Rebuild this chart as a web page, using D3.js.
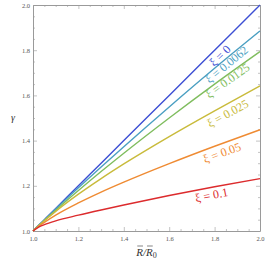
<!DOCTYPE html>
<html>
<head>
<meta charset="utf-8">
<script src="https://cdn.jsdelivr.net/npm/d3@7"></script>
<style>
  body { margin: 0; background: #fff; }
  text { font-family: "Liberation Serif", "DejaVu Serif", serif; }
</style>
</head>
<body>
<div id="chart"></div>
<script>
// values
var rValues = [1.0, 1.025, 1.05, 1.1, 1.2, 1.3, 1.4, 1.6, 1.8, 2.0];
var xiLabels = ["ξ = 0", "ξ = 0.0062", "ξ = 0.0125", "ξ = 0.025", "ξ = 0.05", "ξ = 0.1"];
var gammaXi0     = [1.0, 1.025, 1.05,  1.1,   1.2,   1.3,   1.4,   1.6,   1.8,   2.0];
var gammaXi0062  = [1.0, 1.025, 1.049, 1.097, 1.191, 1.283, 1.373, 1.549, 1.72,  1.885];
var gammaXi0125  = [1.0, 1.024, 1.047, 1.092, 1.179, 1.263, 1.344, 1.5,   1.65,  1.794];
var gammaXi025   = [1.0, 1.023, 1.045, 1.087, 1.163, 1.232, 1.297, 1.418, 1.532, 1.642];
var gammaXi05    = [1.0, 1.021, 1.038, 1.07,  1.124, 1.172, 1.216, 1.298, 1.375, 1.448];
var gammaXi1     = [1.0, 1.017, 1.028, 1.045, 1.07,  1.093, 1.115, 1.157, 1.196, 1.232];
var xTicks = [1.0, 1.2, 1.4, 1.6, 1.8, 2.0];
var yTicks = [1.0, 1.2, 1.4, 1.6, 1.8, 2.0];

var series = [gammaXi0, gammaXi0062, gammaXi0125, gammaXi025, gammaXi05, gammaXi1];
var colors = ["#3d4fd4", "#4a9fc2", "#7fbd5e", "#c9bb3b", "#ef8b33", "#dc2b2d"];
// where along x each label sits and how far below its line (px)
var labelAt = [1.8, 1.84, 1.845, 1.84, 1.82, 1.78];
var labelDrop = [9, 6, 6, 10, 10, 9];

var margin = { top: 5, left: 33, right: 6, bottom: 32 },
    width = 266 - margin.left - margin.right,
    height = 263 - margin.top - margin.bottom;

var svg = d3.select("#chart").append("svg")
    .attr("width", 266)
    .attr("height", 263)
    .append("g")
    .attr("transform", "translate(" + margin.left + "," + margin.top + ")");

var x = d3.scaleLinear().domain([1, 2]).range([0, width]);
var y = d3.scaleLinear().domain([1, 2]).range([height, 0]);

var frameColor = "#9a9a9a";
var minor = d3.range(1, 2.001, 0.05);

function isMajor(d) { return xTicks.some(function (t) { return Math.abs(t - d) < 1e-6; }); }

// frame ticks, all four sides pointing inward
function ticks(axisFn, scale, labels) {
  return axisFn(scale).tickValues(minor).tickSizeInner(-2).tickSizeOuter(0)
      .tickFormat(function (d) { return labels && isMajor(d) ? d3.format(".1f")(d) : ""; });
}

var bottom = svg.append("g").attr("transform", "translate(0," + height + ")")
    .call(ticks(d3.axisBottom, x, true));
var top_ = svg.append("g").call(ticks(d3.axisTop, x, false));
var left = svg.append("g").call(ticks(d3.axisLeft, y, true));
var right = svg.append("g").attr("transform", "translate(" + width + ",0)")
    .call(ticks(d3.axisRight, y, false));

[bottom, top_, left, right].forEach(function (g) {
  g.select(".domain").attr("stroke", frameColor);
  g.selectAll(".tick line").attr("stroke", frameColor).attr("stroke-width", 0.6);
  g.selectAll(".tick text").attr("fill", "#555").style("font-size", "6.5px");
  g.selectAll(".tick line").filter(isMajor).each(function () {
    var l = d3.select(this);
    if (l.attr("y2") !== null) l.attr("y2", +l.attr("y2") * 2);
    if (l.attr("x2") !== null) l.attr("x2", +l.attr("x2") * 2);
  });
});
bottom.selectAll(".tick text").attr("y", 5);
left.selectAll(".tick text").attr("x", -3);

// curves
var line = d3.line()
    .x(function (d) { return x(d[0]); })
    .y(function (d) { return y(d[1]); })
    .curve(d3.curveMonotoneX);

series.forEach(function (vals, i) {
  var pts = rValues.map(function (r, k) { return [r, vals[k]]; });
  svg.append("path")
    .datum(pts)
    .attr("fill", "none")
    .attr("stroke", colors[i])
    .attr("stroke-width", 1.4)
    .attr("d", line);
});

// labels rotated along each curve
series.forEach(function (vals, i) {
  var lx = labelAt[i];
  var k = d3.bisectRight(rValues, lx) - 1;
  var t = (lx - rValues[k]) / (rValues[k + 1] - rValues[k]);
  var g = vals[k] + t * (vals[k + 1] - vals[k]);
  var dx = x(rValues[k + 1]) - x(rValues[k]);
  var dy = y(vals[k + 1]) - y(vals[k]);
  var ang = Math.atan2(dy, dx);
  var px = x(lx) - Math.sin(ang) * labelDrop[i];
  var py = y(g) + Math.cos(ang) * labelDrop[i];
  svg.append("text")
    .attr("transform", "translate(" + px + "," + py + ") rotate(" + (ang * 180 / Math.PI) + ")")
    .attr("text-anchor", "middle")
    .attr("dominant-baseline", "middle")
    .attr("fill", colors[i])
    .style("font-size", "12px")
    .text(xiLabels[i]);
});

// axis titles
svg.append("text")
  .attr("x", -20).attr("y", height / 2 + 3)
  .attr("text-anchor", "middle")
  .style("font-style", "italic").style("font-size", "10px")
  .attr("fill", "#333")
  .text("γ");

var xt = svg.append("text")
  .attr("x", width / 2).attr("y", height + 25)
  .attr("text-anchor", "middle")
  .style("font-style", "italic").style("font-size", "11px")
  .attr("fill", "#333");
xt.append("tspan").text("R/R");
xt.append("tspan").attr("dy", 2).style("font-size", "8px").style("font-style", "normal").text("0");

// bars over the two R's
var node = xt.node();
[0, 2].forEach(function (ci) {
  var b = node.getExtentOfChar(ci);
  svg.append("line")
    .attr("x1", b.x + 1).attr("x2", b.x + b.width)
    .attr("y1", b.y).attr("y2", b.y)
    .attr("stroke", "#333").attr("stroke-width", 0.6);
});
</script>
</body>
</html>
